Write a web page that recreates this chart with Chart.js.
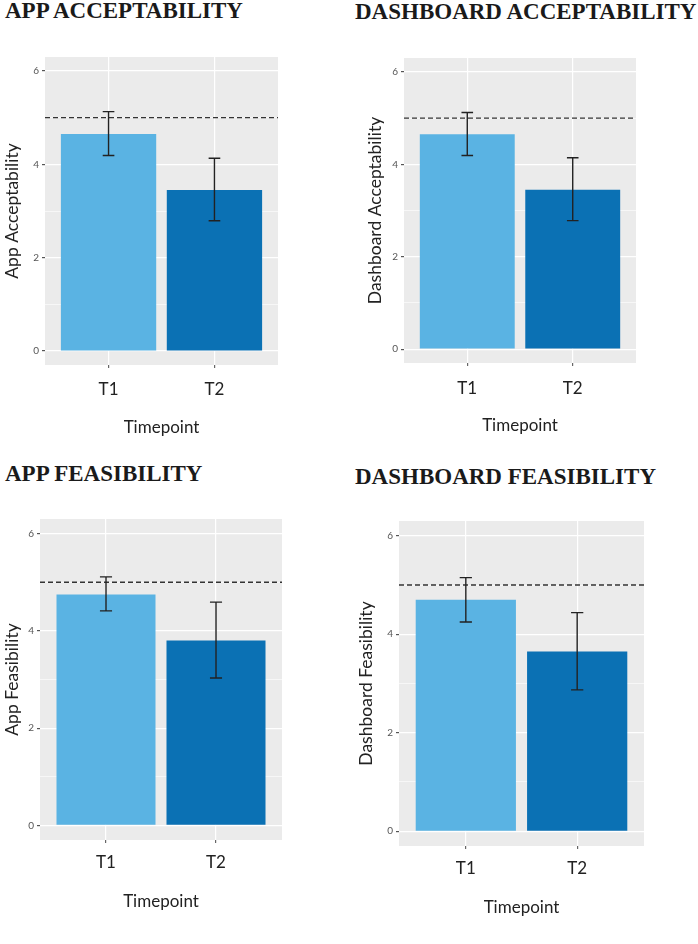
<!DOCTYPE html>
<html>
<head>
<meta charset="utf-8">
<script src="https://cdn.jsdelivr.net/npm/chart.js@4"></script>
<style>
  body { margin: 0; background: #fff; }
  .page { position: relative; width: 698px; height: 944px; overflow: hidden; }
  .title { position: absolute; font-family: "Liberation Serif", "Times New Roman", serif; font-weight: bold;
           font-size: 23px; line-height: 1; color: #1a1a1a; white-space: nowrap; }
  canvas { position: absolute; }
</style>
</head>
<body>
<div class="page">
  <div class="title" style="left:5px; top:-1px;">APP ACCEPTABILITY</div>
  <div class="title" style="left:355px; top:0px;">DASHBOARD ACCEPTABILITY</div>
  <div class="title" style="left:5px; top:462px;">APP FEASIBILITY</div>
  <div class="title" style="left:355px; top:465px;">DASHBOARD FEASIBILITY</div>
  <canvas id="appAcc"></canvas>
  <canvas id="dashAcc"></canvas>
  <canvas id="appFea"></canvas>
  <canvas id="dashFea"></canvas>
</div>
<script>
// data
const categories = ["T1", "T2"];
const categoryX = [1, 2];
const threshold = 5;
const yTickValues = [0, 1, 2, 3, 4, 5, 6];
const yTickLabels = ["0", "", "2", "", "4", "", "6"];

const appAccMean = [4.65, 3.45];
const appAccLow = [4.19, 2.79];
const appAccHigh = [5.13, 4.13];

const dashAccMean = [4.65, 3.45];
const dashAccLow = [4.19, 2.78];
const dashAccHigh = [5.12, 4.14];

const appFeaMean = [4.75, 3.80];
const appFeaLow = [4.41, 3.03];
const appFeaHigh = [5.11, 4.59];

const dashFeaMean = [4.70, 3.65];
const dashFeaLow = [4.25, 2.87];
const dashFeaHigh = [5.15, 4.44];

const barColors = ["#5ab3e3", "#0b71b4"];

Chart.defaults.font.family = "Lato, 'Open Sans', sans-serif";
Chart.defaults.color = "#222";

// grey ggplot-style panel behind the grid
const panelBg = {
    id: "panelBg",
    beforeDraw(chart) {
        const { ctx, chartArea: a } = chart;
        ctx.save();
        ctx.fillStyle = "#ebebeb";
        ctx.fillRect(a.left, a.top, a.width, a.height);
        ctx.restore();
    }
};

const errorBars = {
    id: "errorBars",
    afterDatasetsDraw(chart, args, opts) {
        const { ctx, scales: { x, y } } = chart;
        ctx.save();
        ctx.strokeStyle = "#222";
        ctx.lineWidth = 1.4;
        opts.low.forEach((lo, i) => {
            const cx = x.getPixelForValue(categoryX[i]);
            const half = x.getPixelForValue(categoryX[i] + 0.055) - cx;
            const yl = y.getPixelForValue(lo);
            const yh = y.getPixelForValue(opts.high[i]);
            ctx.beginPath();
            ctx.moveTo(cx, yl); ctx.lineTo(cx, yh);
            ctx.moveTo(cx - half, yl); ctx.lineTo(cx + half, yl);
            ctx.moveTo(cx - half, yh); ctx.lineTo(cx + half, yh);
            ctx.stroke();
        });
        ctx.restore();
    }
};

function makePanel(id, box, yTitle, mean, low, high) {
    const canvas = document.getElementById(id);
    canvas.width = box.w;
    canvas.height = box.h;
    canvas.style.left = box.left + "px";
    canvas.style.top = box.top + "px";

    new Chart(canvas, {
        type: "bar",
        data: {
            datasets: [
                {
                    type: "line",
                    order: 0,
                    data: [{ x: 0.4, y: threshold }, { x: 2.6, y: threshold }],
                    borderColor: "#333",
                    borderWidth: 1.3,
                    borderDash: [5, 3],
                    pointRadius: 0
                },
                {
                    type: "bar",
                    order: 1,
                    data: categoryX.map((x, i) => ({ x: x, y: mean[i] })),
                    backgroundColor: barColors,
                    categoryPercentage: 1,
                    barPercentage: 0.9
                }
            ]
        },
        options: {
            responsive: false,
            animation: false,
            layout: { padding: 0 },
            plugins: {
                legend: { display: false },
                tooltip: { enabled: false },
                errorBars: { low: low, high: high }
            },
            scales: {
                x: {
                    type: "linear",
                    min: 0.4,
                    max: 2.6,
                    offset: false,
                    afterBuildTicks: s => { s.ticks = categoryX.map(v => ({ value: v })); },
                    afterFit: s => { s.height = 80; s.paddingLeft = 0; s.paddingRight = 0; },
                    grid: { color: "#fff", lineWidth: 1.2, tickColor: "#666", tickLength: 3, offset: false },
                    border: { display: false },
                    ticks: {
                        padding: box.tickPad,
                        font: { size: 17 },
                        color: "#222",
                        callback: v => categories[categoryX.indexOf(v)]
                    },
                    title: {
                        display: true,
                        text: "Timepoint",
                        font: { size: 17 },
                        color: "#222",
                        padding: { top: 0, bottom: box.xTitlePad }
                    }
                },
                y: {
                    min: -0.3,
                    max: 6.3,
                    afterBuildTicks: s => { s.ticks = yTickValues.map(v => ({ value: v })); },
                    afterFit: s => { s.width = box.yw; s.paddingTop = 0; s.paddingBottom = 0; },
                    grid: {
                        color: "#fff",
                        lineWidth: c => (c.tick && c.tick.value % 2 ? 0.6 : 1.2),
                        tickColor: c => (c.tick && c.tick.value % 2 ? "rgba(0,0,0,0)" : "#555"),
                        tickLength: 3
                    },
                    border: { display: false },
                    ticks: {
                        padding: 3,
                        font: { size: 10 },
                        color: "#555",
                        callback: v => yTickLabels[yTickValues.indexOf(v)]
                    },
                    title: {
                        display: true,
                        text: yTitle,
                        font: { size: 17.5 },
                        color: "#222",
                        padding: { top: box.yTitlePad, bottom: 0 }
                    }
                }
            }
        },
        plugins: [panelBg, errorBars]
    });
}

makePanel("appAcc", { left: 0, top: 57, w: 278, h: 388, yw: 45, tickPad: 11.8, xTitlePad: 6.8, yTitlePad: 1.5 },
    "App Acceptability", appAccMean, appAccLow, appAccHigh);
makePanel("dashAcc", { left: 350, top: 58, w: 286, h: 385, yw: 54, tickPad: 12.8, xTitlePad: 6.8, yTitlePad: 14.5 },
    "Dashboard Acceptability", dashAccMean, dashAccLow, dashAccHigh);
makePanel("appFea", { left: 0, top: 519, w: 282, h: 401, yw: 40, tickPad: 9.8, xTitlePad: 7.8, yTitlePad: 2.0 },
    "App Feasibility", appFeaMean, appFeaLow, appFeaHigh);
makePanel("dashFea", { left: 350, top: 521, w: 294, h: 405, yw: 49, tickPad: 9.8, xTitlePad: 7.8, yTitlePad: 5.5 },
    "Dashboard Feasibility", dashFeaMean, dashFeaLow, dashFeaHigh);
</script>
</body>
</html>
